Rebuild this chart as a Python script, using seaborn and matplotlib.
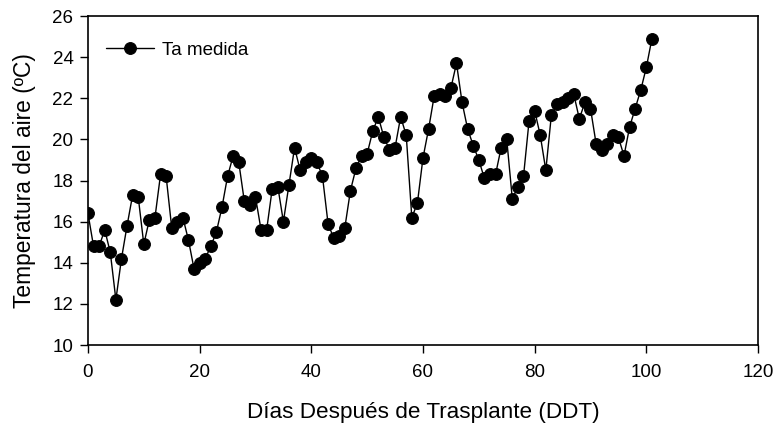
import matplotlib

matplotlib.use("Agg")
import matplotlib.pyplot as plt
import pandas as pd
import seaborn as sns

# * --- Data (one reading per day) ---
dias = list(range(0, 102))
ta_medida = [
    16.4, 14.8, 14.8, 15.6, 14.5, 12.2, 14.2, 15.8, 17.3, 17.2,
    14.9, 16.1, 16.2, 18.3, 18.2, 15.7, 16.0, 16.2, 15.1, 13.7,
    14.0, 14.2, 14.8, 15.5, 16.7, 18.2, 19.2, 18.9, 17.0, 16.8,
    17.2, 15.6, 15.6, 17.6, 17.7, 16.0, 17.8, 19.6, 18.5, 18.9,
    19.1, 18.9, 18.2, 15.9, 15.2, 15.3, 15.7, 17.5, 18.6, 19.2,
    19.3, 20.4, 21.1, 20.1, 19.5, 19.6, 21.1, 20.2, 16.2, 16.9,
    19.1, 20.5, 22.1, 22.2, 22.1, 22.5, 23.7, 21.8, 20.5, 19.7,
    19.0, 18.1, 18.3, 18.3, 19.6, 20.0, 17.1, 17.7, 18.2, 20.9,
    21.4, 20.2, 18.5, 21.2, 21.7, 21.8, 22.0, 22.2, 21.0, 21.8,
    21.5, 19.8, 19.5, 19.8, 20.2, 20.1, 19.2, 20.6, 21.5, 22.4,
    23.5, 24.9,
]
serie = "Ta medida"

x_ticks = [0, 20, 40, 60, 80, 100, 120]
y_ticks = [10, 12, 14, 16, 18, 20, 22, 24, 26]

df = pd.DataFrame({"dia": dias, "ta": ta_medida, "serie": serie})

sns.set_style("white")
plt.rcParams["font.family"] = ["Liberation Sans", "DejaVu Sans"]
plt.rcParams["text.color"] = "black"
plt.rcParams["axes.labelcolor"] = "black"

fig = plt.figure(figsize=(7.73, 4.26), dpi=100)
ax = fig.add_axes([0.1138, 0.1901, 0.8668, 0.7723])

sns.lineplot(
    data=df,
    x="dia",
    y="ta",
    hue="serie",
    palette=["black"],
    marker="o",
    markersize=8.5,
    markeredgecolor="black",
    linewidth=1,
    ax=ax,
)

ax.set_xlim(0, 120)
ax.set_ylim(10, 26)
ax.set_xticks(x_ticks)
ax.set_yticks(y_ticks)
ax.tick_params(axis="both", direction="out", width=1, labelsize=13.5,
               bottom=True, left=True, top=False, right=False,
               colors="black")
ax.tick_params(axis="x", length=6, pad=8)
ax.tick_params(axis="y", length=5.5, pad=5)
for spine in ax.spines.values():
    spine.set_visible(True)
    spine.set_color("black")
    spine.set_linewidth(1.2)

ax.set_xlabel("Días Después de Trasplante (DDT)", fontsize=16.2, labelpad=15)
ax.set_ylabel("Temperatura del aire (ºC)", fontsize=16.4, labelpad=12)

leg = ax.legend(loc="upper left", frameon=False, fontsize=13.5,
                handlelength=2.6, handletextpad=0.4, borderaxespad=0.0,
                bbox_to_anchor=(0.015, 0.945))

plt.savefig("out.png", dpi=100)
